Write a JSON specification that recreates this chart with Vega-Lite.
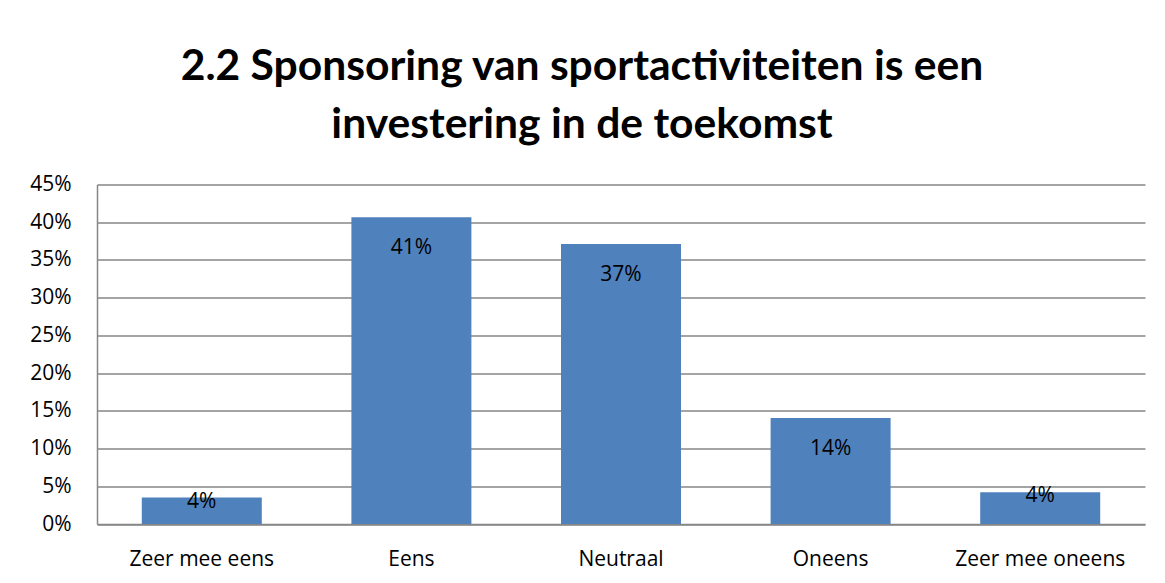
{
  "$schema": "https://vega.github.io/schema/vega-lite/v6.json",
  "autosize": {"type": "none"},
  "width": 1048,
  "height": 339.5,
  "padding": {"left": 97, "top": 184.5, "right": 20, "bottom": 59},
  "background": "white",
  "title": {
    "text": ["2.2 Sponsoring van sportactiviteiten is een", "investering in de toekomst"],
    "anchor": "middle",
    "frame": "group",
    "font": "Lato",
    "fontWeight": "bold",
    "fontSize": 42.6,
    "lineHeight": 58,
    "color": "black",
    "dx": -39,
    "dy": -7,
    "offset": 20
  },
  "data": {
    "values": [
      {"category": "Zeer mee eens", "value": 0.035},
      {"category": "Eens", "value": 0.4065},
      {"category": "Neutraal", "value": 0.371},
      {"category": "Oneens", "value": 0.1405},
      {"category": "Zeer mee oneens", "value": 0.042}
    ]
  },
  "encoding": {
    "x": {
      "field": "category",
      "type": "nominal",
      "sort": null,
      "scale": {"paddingInner": 0.4275, "paddingOuter": 0.2137},
      "axis": {
        "title": null,
        "labelAngle": 0,
        "ticks": false,
        "tickSize": 0,
        "domainColor": "#868686",
        "domainWidth": 1.5,
        "labelFont": "Open Sans",
        "labelFontSize": 21,
        "labelColor": "black",
        "labelPadding": 24,
        "grid": false
      }
    },
    "y": {
      "field": "value",
      "type": "quantitative",
      "scale": {"domain": [0, 0.45], "nice": false},
      "axis": {
        "title": null,
        "values": [0, 0.05, 0.1, 0.15, 0.2, 0.25, 0.3, 0.35, 0.4, 0.45],
        "tickCount": 20,
        "format": ".0%",
        "labelOverlap": false,
        "ticks": false,
        "tickSize": 0,
        "labelPadding": 26,
        "labelFont": "Open Sans",
        "labelFontSize": 21,
        "labelColor": "black",
        "domainColor": "#868686",
        "domainWidth": 1.5,
        "grid": true,
        "gridColor": "#868686",
        "gridWidth": 1.5
      }
    }
  },
  "layer": [
    {
      "mark": {"type": "bar", "color": "#4F81BD"}
    },
    {
      "transform": [{"filter": "datum.value >= 0.1"}],
      "mark": {"type": "text", "font": "Open Sans", "fontSize": 21, "color": "black", "baseline": "middle", "dy": 31},
      "encoding": {
        "text": {"field": "value", "type": "quantitative", "format": ".0%"}
      }
    },
    {
      "transform": [{"filter": "datum.value < 0.1"}],
      "mark": {"type": "text", "font": "Open Sans", "fontSize": 21, "color": "black", "baseline": "middle", "dy": 4},
      "encoding": {
        "text": {"field": "value", "type": "quantitative", "format": ".0%"}
      }
    }
  ],
  "config": {
    "view": {"stroke": null}
  }
}
